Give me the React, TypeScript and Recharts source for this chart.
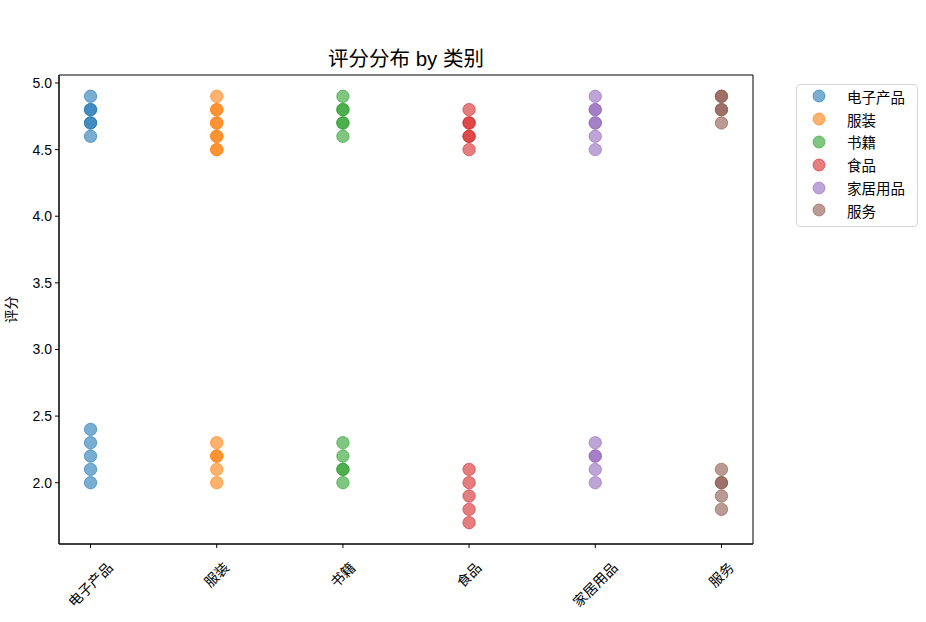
import { Legend, ReferenceArea, Scatter, ScatterChart, XAxis, YAxis } from 'recharts'

const categories = ['电子产品', '服装', '书籍', '食品', '家居用品', '服务']
const colors = ['#1f77b4', '#ff7f0e', '#2ca02c', '#d62728', '#9467bd', '#8c564b']

// scores per category, duplicates kept (they show as darker dots)
const electronics = [4.9, 4.8, 4.8, 4.7, 4.7, 4.6, 2.4, 2.3, 2.2, 2.1, 2.0]
const clothing    = [4.9, 4.8, 4.8, 4.7, 4.7, 4.6, 4.6, 4.5, 4.5, 2.3, 2.2, 2.2, 2.1, 2.0]
const books       = [4.9, 4.8, 4.8, 4.7, 4.7, 4.6, 2.3, 2.2, 2.1, 2.1, 2.0]
const food        = [4.8, 4.7, 4.7, 4.6, 4.6, 4.5, 2.1, 2.0, 1.9, 1.8, 1.7]
const home        = [4.9, 4.8, 4.8, 4.7, 4.7, 4.6, 4.5, 2.3, 2.2, 2.2, 2.1, 2.0]
const service     = [4.9, 4.9, 4.8, 4.8, 4.7, 2.1, 2.0, 2.0, 1.9, 1.8]

const seriesScores = [electronics, clothing, books, food, home, service]
const yTicks = [2.0, 2.5, 3.0, 3.5, 4.0, 4.5, 5.0]
const xTicks = [0, 1, 2, 3, 4, 5]

const W = 926
const H = 622
const M = { top: 75, right: 173, bottom: 8, left: 19 }
const X_AXIS_H = 70
const PLOT_BOTTOM = H - M.bottom - X_AXIS_H
const X_DOMAIN = [-0.25, 5.25]
const Y_DOMAIN = [1.54, 5.06]
const FONT = '"Liberation Sans", Arial, "Noto Sans CJK SC", sans-serif'

function RotatedTick(props: any) {
  const { x, payload } = props
  const label = categories[payload.value] ?? ''
  const half = ((label.length + 1) * 14 * 0.707) / 2
  const cy = PLOT_BOTTOM + 16 + half
  return (
    <text
      x={x}
      y={cy}
      transform={`rotate(-45, ${x}, ${cy})`}
      textAnchor="middle"
      dominantBaseline="central"
      fontSize={14}
      fontFamily={FONT}
      fill="#000"
    >
      {label}
    </text>
  )
}

function Dot(props: any) {
  const { cx, cy, fill } = props
  return <circle cx={cx} cy={cy} r={6.2} fill={fill} fillOpacity={0.6} stroke={fill} strokeOpacity={0.6} strokeWidth={1} />
}

function LegendBox() {
  return (
    <div
      style={{
        border: '1px solid #d6d6d6',
        borderRadius: 4,
        background: '#fff',
        padding: '0px 4px 4px 15px',
        fontFamily: FONT,
        fontSize: 14.5,
        color: '#000',
      }}
    >
      {categories.map((c, i) => (
        <div key={c} style={{ display: 'flex', alignItems: 'center', height: 22.8 }}>
          <svg width={14} height={14} style={{ marginRight: 21, flexShrink: 0 }}>
            <circle cx={7} cy={7} r={6} fill={colors[i]} fillOpacity={0.6} stroke={colors[i]} strokeOpacity={0.6} />
          </svg>
          <span style={{ whiteSpace: 'nowrap' }}>{c}</span>
        </div>
      ))}
    </div>
  )
}

export default function App() {
  return (
    <div style={{ position: 'absolute', left: 0, top: 0, width: W, height: H, background: '#fff' }}>
      <ScatterChart width={W} height={H} margin={M}>
        <XAxis
          type="number"
          dataKey="x"
          domain={X_DOMAIN}
          ticks={xTicks}
          height={X_AXIS_H}
          tick={<RotatedTick />}
          tickSize={4}
          interval={0}
          allowDataOverflow
          axisLine={{ stroke: '#000', strokeWidth: 1 }}
          tickLine={{ stroke: '#000' }}
        />
        <YAxis
          type="number"
          dataKey="y"
          domain={Y_DOMAIN}
          ticks={yTicks}
          width={40}
          allowDataOverflow
          tickFormatter={(v: number) => v.toFixed(1)}
          tick={{ fontSize: 14, fill: '#000', fontFamily: FONT }}
          tickSize={4}
          tickMargin={3}
          interval={0}
          axisLine={{ stroke: '#000', strokeWidth: 1 }}
          tickLine={{ stroke: '#000' }}
          label={{ value: '评分', angle: -90, position: 'insideLeft', dx: -13, style: { fontSize: 13.5, fill: '#000', fontFamily: FONT, textAnchor: 'middle' } }}
        />
        <ReferenceArea x1={X_DOMAIN[0]} x2={X_DOMAIN[1]} y1={Y_DOMAIN[0]} y2={Y_DOMAIN[1]} fill="none" fillOpacity={0} stroke="#000" strokeWidth={1} ifOverflow="visible" />
        <text x={406} y={58} textAnchor="middle" dominantBaseline="central" fontSize={20.5} fontFamily={FONT} fill="#000">
          评分分布 by 类别
        </text>
        {seriesScores.map((scores, i) => (
          <Scatter
            key={categories[i]}
            name={categories[i]}
            data={scores.map((y) => ({ x: i, y }))}
            fill={colors[i]}
            shape={<Dot />}
            isAnimationActive={false}
          />
        ))}
        <Legend
          layout="vertical"
          align="center"
          verticalAlign="middle"
          content={() => <LegendBox />}
          wrapperStyle={{ left: 796, top: 84, width: 122, height: 'auto' }}
        />
      </ScatterChart>
    </div>
  )
}
